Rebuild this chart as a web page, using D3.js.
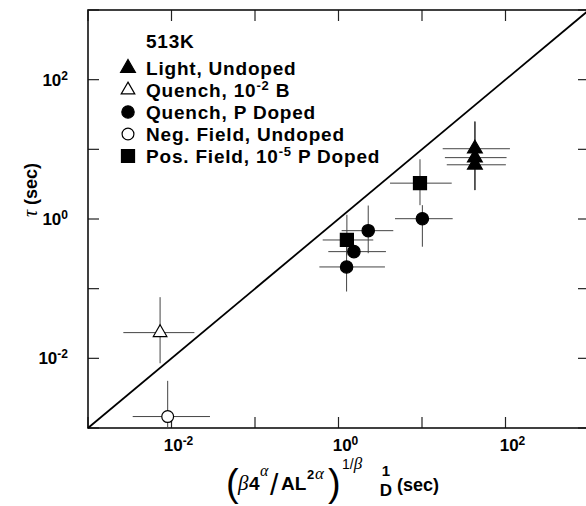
<!DOCTYPE html>
<html>
<head>
<meta charset="utf-8">
<script src="https://cdn.jsdelivr.net/npm/d3@7"></script>
<style>
  body { margin: 0; background: #fff; }
  text { font-family: "Liberation Sans", Arial, sans-serif; fill: #000; }
</style>
</head>
<body>
<svg id="chart" width="586" height="506"></svg>
<script>
// tick labels (decade exponents shown on the axes)
const tickExps = [-2, 0, 2];

// Light, Undoped (filled triangles)
const lightX = [43, 43, 43];
const lightY = [10.2, 7.6, 6.0];
const lightXLo = [17.7, 18.8, 19.8];
const lightXHi = [113, 103, 101];
const lightYLo = [2.6, 2.6, 2.6];
const lightYHi = [25, 25, 25];

// Quench, 10-2 B (open triangle)
const quenchBX = [0.0073];
const quenchBY = [0.0234];
const quenchBXLo = [0.00265];
const quenchBXHi = [0.0188];
const quenchBYLo = [0.0085];
const quenchBYHi = [0.0755];

// Quench, P Doped (filled circles)
const quenchPX = [1.25, 1.53, 2.27, 10.1];
const quenchPY = [0.205, 0.34, 0.68, 1.01];
const quenchPXLo = [0.59, 0.755, 1.09, 4.75];
const quenchPXHi = [3.6, 3.7, 4.53, 23.3];
const quenchPYLo = [0.091, 0.28, 0.323, 0.40];
const quenchPYHi = [0.40, 0.42, 1.56, 1.58];

// Neg. Field, Undoped (open circle)
const negX = [0.0090];
const negY = [0.00146];
const negXLo = [0.00343];
const negXHi = [0.0289];
const negYLo = [0.0005];
const negYHi = [0.00475];

// Pos. Field, 10-5 P Doped (filled squares)
const posX = [1.26, 9.46];
const posY = [0.50, 3.27];
const posXLo = [0.647, 4.14];
const posXHi = [2.61, 22.7];
const posYLo = [0.30, 1.58];
const posYHi = [1.15, 7.2];

const width = 586, height = 506;
const margin = { top: 10, right: -3, bottom: 78, left: 88 };
const svg = d3.select('#chart');

const x = d3.scaleLog().domain([1e-3, 1e3]).range([margin.left, width - margin.right]);
const y = d3.scaleLog().domain([1e-3, 1e3]).range([height - margin.bottom, margin.top]);

const x0 = x.range()[0], x1 = x.range()[1];
const y0 = y.range()[0], y1 = y.range()[1];

svg.append('clipPath').attr('id', 'plot-clip')
  .append('rect').attr('x', x0).attr('y', y1).attr('width', x1 - x0).attr('height', y0 - y1);

// ticks on all four sides, pointing inwards
const decades = d3.range(-3, 4).map(e => Math.pow(10, e));
const tickLen = 11;
const ticks = svg.append('g').attr('stroke', '#222').attr('stroke-width', 1.2);
decades.forEach(v => {
  ticks.append('line').attr('x1', x(v)).attr('x2', x(v)).attr('y1', y0).attr('y2', y0 - tickLen);
  ticks.append('line').attr('x1', x(v)).attr('x2', x(v)).attr('y1', y1).attr('y2', y1 + tickLen);
  ticks.append('line').attr('y1', y(v)).attr('y2', y(v)).attr('x1', x0).attr('x2', x0 + tickLen);
  ticks.append('line').attr('y1', y(v)).attr('y2', y(v)).attr('x1', x1).attr('x2', x1 - tickLen);
});

// frame
svg.append('rect')
  .attr('x', x0).attr('y', y1).attr('width', x1 - x0).attr('height', y0 - y1)
  .attr('fill', 'none').attr('stroke', '#111').attr('stroke-width', 1.6);

// tick labels
tickExps.forEach(e => {
  const v = Math.pow(10, e);
  const tx = svg.append('text')
    .attr('x', x(v) + 7).attr('y', y0 + 23)
    .attr('text-anchor', 'middle')
    .style('font-size', '17px').style('font-weight', 'bold');
  tx.append('tspan').text('10');
  tx.append('tspan').attr('dy', -6).style('font-size', '12px').text(e < 0 ? '-' + (-e) : String(e));

  const ty = svg.append('text')
    .attr('x', x0 - 20).attr('y', y(v) + 6)
    .attr('text-anchor', 'end')
    .style('font-size', '17px').style('font-weight', 'bold');
  ty.append('tspan').text('10');
  ty.append('tspan').attr('dy', -6).style('font-size', '12px').text(e < 0 ? '-' + (-e) : String(e));
});

// diagonal tau = x
svg.append('line')
  .attr('x1', x(1e-3)).attr('y1', y(1e-3))
  .attr('x2', x(1e3)).attr('y2', y(1e3))
  .attr('stroke', '#000').attr('stroke-width', 1.8);

// series list built from the arrays above
const series = [
  { name: 'Light, Undoped', sym: d3.symbolTriangle, size: 95, fill: '#000',
    xs: lightX, ys: lightY, xlo: lightXLo, xhi: lightXHi, ylo: lightYLo, yhi: lightYHi },
  { name: 'Quench, 10', sup: '-2', tail: ' B', sym: d3.symbolTriangle, size: 80, fill: '#fff',
    xs: quenchBX, ys: quenchBY, xlo: quenchBXLo, xhi: quenchBXHi, ylo: quenchBYLo, yhi: quenchBYHi },
  { name: 'Quench, P Doped', sym: d3.symbolCircle, size: 120, fill: '#000',
    xs: quenchPX, ys: quenchPY, xlo: quenchPXLo, xhi: quenchPXHi, ylo: quenchPYLo, yhi: quenchPYHi },
  { name: 'Neg. Field, Undoped', sym: d3.symbolCircle, size: 110, fill: '#fff',
    xs: negX, ys: negY, xlo: negXLo, xhi: negXHi, ylo: negYLo, yhi: negYHi },
  { name: 'Pos. Field, 10', sup: '-5', tail: ' P Doped', sym: d3.symbolSquare, size: 170, fill: '#000',
    xs: posX, ys: posY, xlo: posXLo, xhi: posXHi, ylo: posYLo, yhi: posYHi }
];

const plot = svg.append('g').attr('clip-path', 'url(#plot-clip)');

// error bars first
series.forEach(s => {
  const pts = s.xs.map((v, i) => ({ x: v, y: s.ys[i], xlo: s.xlo[i], xhi: s.xhi[i], ylo: s.ylo[i], yhi: s.yhi[i] }));
  const g = plot.append('g').attr('stroke', '#444').attr('stroke-width', 1);
  g.selectAll('line.h').data(pts).enter().append('line')
    .attr('x1', d => x(d.xlo)).attr('x2', d => x(d.xhi))
    .attr('y1', d => y(d.y)).attr('y2', d => y(d.y));
  g.selectAll('line.v').data(pts).enter().append('line')
    .attr('x1', d => x(d.x)).attr('x2', d => x(d.x))
    .attr('y1', d => y(d.ylo)).attr('y2', d => y(d.yhi));
});

// markers
series.forEach(s => {
  const pts = s.xs.map((v, i) => ({ x: v, y: s.ys[i] }));
  plot.append('g').selectAll('path').data(pts).enter().append('path')
    .attr('d', d3.symbol().type(s.sym).size(s.size))
    .attr('transform', d => `translate(${x(d.x)},${y(d.y)})`)
    .attr('fill', s.fill).attr('stroke', '#000').attr('stroke-width', 1.2);
});

// legend
const legX = 128, legTextX = 146, legY0 = 68, legStep = 22;
svg.append('text').attr('x', legTextX).attr('y', 48)
  .style('font-size', '19px').style('font-weight', 'bold').style('letter-spacing', '0.8px')
  .text('513K');
series.forEach((s, i) => {
  const cy = legY0 + i * legStep;
  svg.append('path')
    .attr('d', d3.symbol().type(s.sym).size(s.size)())
    .attr('transform', `translate(${legX},${cy})`)
    .attr('fill', s.fill).attr('stroke', '#000').attr('stroke-width', 1.2);
  const t = svg.append('text').attr('x', legTextX).attr('y', cy + 7)
    .style('font-size', '19px').style('font-weight', 'bold').style('letter-spacing', '0.8px');
  t.append('tspan').text(s.name);
  if (s.sup) {
    t.append('tspan').attr('dy', -7).style('font-size', '13px').text(s.sup);
    t.append('tspan').attr('dy', 7).text(s.tail);
  }
});

// y axis title
svg.append('text')
  .attr('transform', `translate(37,190) rotate(-90)`)
  .attr('text-anchor', 'middle')
  .style('font-size', '18px').style('font-weight', 'bold')
  .html('<tspan style="font-family:\'Liberation Serif\',serif;font-style:italic;font-weight:normal;font-size:20px">τ</tspan> (sec)');

// x axis title pieces
const title = svg.append('g');
const serif = "'Liberation Serif', serif";
title.append('text').attr('x', 226).attr('y', 496).style('font-size', '38px').style('font-weight', 'normal').text('(');
title.append('text').attr('x', 238).attr('y', 490).style('font-family', serif).style('font-style', 'italic').style('font-size', '21px').text('β');
title.append('text').attr('x', 249).attr('y', 490).style('font-size', '19px').style('font-weight', 'bold').text('4');
title.append('text').attr('x', 260).attr('y', 476).style('font-family', serif).style('font-style', 'italic').style('font-size', '16px').text('α');
title.append('text').attr('x', 270).attr('y', 495).style('font-size', '30px').style('font-weight', 'normal').text('/');
title.append('text').attr('x', 281).attr('y', 490).style('font-size', '19px').style('font-weight', 'bold').text('AL');
title.append('text').attr('x', 307).attr('y', 479).style('font-size', '13px').style('font-weight', 'bold').text('2');
title.append('text').attr('x', 315).attr('y', 479).style('font-family', serif).style('font-style', 'italic').style('font-size', '17px').text('α');
title.append('text').attr('x', 328).attr('y', 496).style('font-size', '38px').style('font-weight', 'normal').text(')');
const ex = title.append('text').attr('x', 342).attr('y', 469).style('font-size', '14px');
ex.append('tspan').text('1/');
ex.append('tspan').style('font-family', serif).style('font-style', 'italic').style('font-size', '17px').text('β');
title.append('text').attr('x', 386).attr('y', 476).attr('text-anchor', 'middle').style('font-size', '15px').style('font-weight', 'bold').text('1');
title.append('text').attr('x', 386).attr('y', 496).attr('text-anchor', 'middle').style('font-size', '17px').style('font-weight', 'bold').text('D');
title.append('text').attr('x', 397).attr('y', 491).style('font-size', '18px').style('font-weight', 'bold').text('(sec)');
</script>
</body>
</html>
